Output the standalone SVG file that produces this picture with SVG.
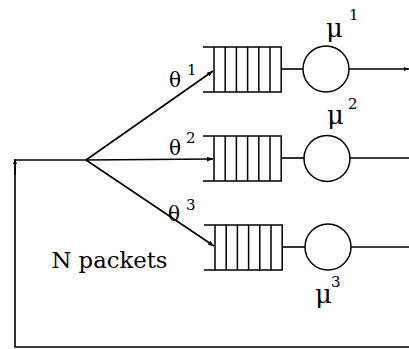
<svg xmlns="http://www.w3.org/2000/svg" width="409" height="349" viewBox="0 0 409 349">
<style>
.ln{stroke:#000;stroke-width:1.6;fill:none}
.q{stroke:#000;stroke-width:1.5;fill:none}
.c{stroke:#000;stroke-width:1.5;fill:#fff}
text{fill:#000;font-family:"DejaVu Serif","Liberation Serif",serif}
</style>
<defs>
<marker id="ah" viewBox="0 0 10 10" refX="10" refY="5" markerWidth="6" markerHeight="6" markerUnits="userSpaceOnUse" orient="auto">
<path d="M0,1 L10,5 L0,9 Z" fill="#000"/>
</marker>
<marker id="ahs" viewBox="0 0 10 10" refX="10" refY="5" markerWidth="5" markerHeight="5" markerUnits="userSpaceOnUse" orient="auto">
<path d="M0,1 L10,5 L0,9 Z" fill="#000"/>
</marker>
<g id="queue">
<path class="q" d="M-11,0 H67.2 V45 H-11 M0,0 V45 M11.2,0 V45 M22.4,0 V45 M33.6,0 V45 M44.8,0 V45 M56,0 V45"/>
</g>
</defs>
<g id="connectors">
<path class="ln" d="M86,160 L213,71" marker-end="url(#ah)"/>
<path class="ln" d="M86,160 L213,159" marker-end="url(#ah)"/>
<path class="ln" d="M86,160 L214,246" marker-end="url(#ah)"/>
<path class="ln" d="M281,69 H303"/>
<path class="ln" d="M281,158 H304"/>
<path class="ln" d="M282,247 H305"/>
<path class="ln" d="M349,69 H409" marker-end="url(#ahs)"/>
<path class="ln" d="M350,158 H409"/>
<path class="ln" d="M351,247 H409"/>
<path class="ln" d="M409,347 H15 V161"/>
<path class="ln" d="M15,175 V159" marker-end="url(#ahs)"/>
<path class="ln" d="M15,160 H86"/>
</g>
<g id="queue1"><use href="#queue" x="214" y="47"/></g>
<g id="queue2"><use href="#queue" x="214" y="136"/></g>
<g id="queue3"><use href="#queue" x="215" y="225"/></g>
<g id="server1"><circle class="c" cx="326" cy="69" r="23"/></g>
<g id="server2"><circle class="c" cx="327" cy="158.5" r="23"/></g>
<g id="server3"><circle class="c" cx="328" cy="247" r="23"/></g>
<g id="labels">
<text x="169" y="87" font-size="20">θ</text><text x="187" y="75" font-size="15">1</text>
<text x="169" y="155" font-size="20">θ</text><text x="186" y="143" font-size="15">2</text>
<text x="168" y="221" font-size="20">θ</text><text x="186" y="210" font-size="15">3</text>
<text x="326" y="37" font-size="26">μ</text><text x="349" y="20" font-size="15">1</text>
<text x="327" y="124" font-size="26">μ</text><text x="348" y="109" font-size="15">2</text>
<text x="315" y="303" font-size="26">μ</text><text x="331" y="287" font-size="15">3</text>
<text x="51.5" y="268" font-size="22" textLength="116" lengthAdjust="spacingAndGlyphs">N packets</text>
</g>
</svg>
